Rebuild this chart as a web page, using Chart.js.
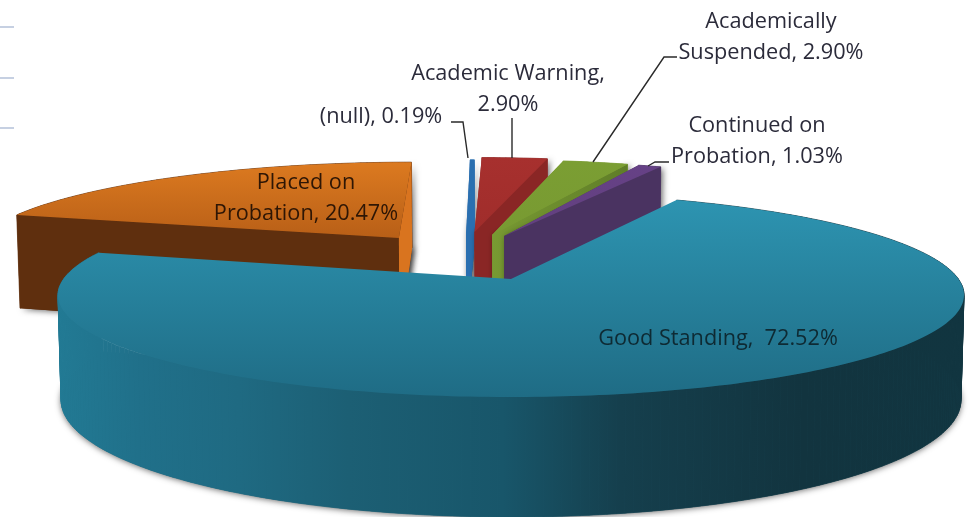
<!DOCTYPE html>
<html>
<head>
<meta charset="utf-8">
<title>Academic standing</title>
<script src="https://cdn.jsdelivr.net/npm/chart.js@4/dist/chart.umd.min.js"></script>
<style>
html, body { margin: 0; padding: 0; background: #fff; overflow: hidden; }
canvas { display: block; filter: blur(0.5px); }
</style>
</head>
<body>
<canvas id="standingPie" width="969" height="517"></canvas>
<script>
// data
const categories = ["Good Standing", "Placed on Probation", "(null)", "Academic Warning", "Academically Suspended", "Continued on Probation"];
const percents = [72.52, 20.47, 0.19, 2.90, 2.90, 1.03];

// slice colours
const topColors = ["#2d94b1", "#dc7a20", "#2a6fb0", "#a7302e", "#7b9e33", "#664186"];
const topDarkColors = ["#1f6c85", "#b85f17", "#2a6fb0", "#a02d2b", "#789a32", "#62407f"];
const startWallColors = ["#1c6074", "#5f2f0e", "#2a6fb0", "#8a2625", "#789a32", "#4a3361"];
const endWallNear = ["#1c6074", "#d9741f", "#2a6fb0", "#8a2625", "#789a32", "#4a3361"];
const endWallFar = ["#1c6074", "#d9741f", "#2a6fb0", "#8a2625", "#5f7d28", "#4a3361"];

// how far each slice is pulled out of the pie, in pie radii
const explodeX = [0, -0.268, -0.108, -0.088, -0.045, -0.016];
const explodeY = [0, -0.44, -0.475, -0.51, -0.477, -0.463];

// the pie's top and bottom planes on screen
const topPlane = { cx: 511, cy: 295, rx: 453, ry: 102 };
const bottomPlane = { cx: 511, cy: 400, rx: 450, ry: 117 };
const tilt = 0.157; // perspective, pushes the pie centre up the ellipse

function project(px, py, plane) {
    const d = 1 - tilt * py;
    return {
        x: plane.cx + plane.rx * px * Math.sqrt(1 - tilt * tilt) / d,
        y: plane.cy + plane.ry * (py - tilt) / d,
    };
}

// outline of the outer edge of a slice, sampled around its angles
function rimPoints(el, i, plane) {
    const pts = [];
    const steps = Math.max(2, Math.ceil((el.endAngle - el.startAngle) * 180 / Math.PI));
    for (let s = 0; s <= steps; s++) {
        const a = el.startAngle + (el.endAngle - el.startAngle) * s / steps;
        pts.push(project(explodeX[i] + Math.cos(a), explodeY[i] + Math.sin(a), plane));
    }
    return pts;
}

function fillPoly(ctx, pts, fill, seam) {
    ctx.beginPath();
    pts.forEach((p, n) => (n ? ctx.lineTo(p.x, p.y) : ctx.moveTo(p.x, p.y)));
    ctx.closePath();
    ctx.fillStyle = fill;
    ctx.fill();
    if (seam) {
        ctx.strokeStyle = fill;
        ctx.lineWidth = 0.7;
        ctx.stroke();
    }
}

function drawSlice(ctx, el, i) {
    const rimTop = rimPoints(el, i, topPlane);
    const rimBottom = rimPoints(el, i, bottomPlane);
    const hubTop = project(explodeX[i], explodeY[i], topPlane);
    const hubBottom = project(explodeX[i], explodeY[i], bottomPlane);
    const last = rimTop.length - 1;

    // soft shadow comes from the footprint of the slice
    ctx.save();
    ctx.shadowColor = "rgba(0,0,0,0.6)";
    ctx.shadowBlur = 6;
    ctx.shadowOffsetY = 1;
    ctx.shadowOffsetX = i === 0 ? 0 : 2;
    fillPoly(ctx, [hubBottom].concat(rimBottom), startWallColors[i]);
    if (i !== 0) {
        fillPoly(ctx, [hubTop, rimTop[last], rimBottom[last], hubBottom], endWallNear[i]);
    }
    ctx.restore();

    // outer wall, one quad per sampled step
    let wallFill = startWallColors[i];
    if (i === 0) {
        wallFill = ctx.createLinearGradient(58, 0, 965, 0);
        wallFill.addColorStop(0, "#227a94");
        wallFill.addColorStop(0.09, "#20708a");
        wallFill.addColorStop(0.2, "#1f6a82");
        wallFill.addColorStop(0.32, "#1c5f74");
        wallFill.addColorStop(0.49, "#18566a");
        wallFill.addColorStop(0.62, "#153f4d");
        wallFill.addColorStop(0.82, "#12343f");
        wallFill.addColorStop(1, "#113540");
    }
    for (let k = 0; k < last; k++) {
        fillPoly(ctx, [rimTop[k], rimTop[k + 1], rimBottom[k + 1], rimBottom[k]], wallFill, true);
    }

    // the two cut faces, the main slice shows neither
    if (i !== 0) {
        fillPoly(ctx, [hubTop, rimTop[0], rimBottom[0], hubBottom], startWallColors[i]);
        const endFill = ctx.createLinearGradient(hubTop.x, 0, rimTop[last].x, 0);
        endFill.addColorStop(0, endWallNear[i]);
        endFill.addColorStop(1, endWallFar[i]);
        fillPoly(ctx, [hubTop, rimTop[last], rimBottom[last], hubBottom], endFill);
    }

    // top face
    const ys = rimTop.map(p => p.y).concat(hubTop.y);
    const topFill = ctx.createLinearGradient(0, Math.min(...ys), 0, Math.max(...ys));
    topFill.addColorStop(0, el.options.backgroundColor);
    topFill.addColorStop(1, topDarkColors[i]);
    fillPoly(ctx, [hubTop].concat(rimTop), topFill);
}

// labels
const labelLayout = [
    { lines: ["Good Standing,  72.52%"], x: 718, y: 338, color: "#0e2a33" },
    { lines: ["Placed on", "Probation, 20.47%"], x: 306, y: 182, color: "#2e1605" },
    { lines: ["(null), 0.19%"], x: 381, y: 116, color: "#2b2b3a" },
    { lines: ["Academic Warning,", "2.90%"], x: 508, y: 73, color: "#2b2b3a" },
    { lines: ["Academically", "Suspended, 2.90%"], x: 771, y: 21, color: "#2b2b3a" },
    { lines: ["Continued on", "Probation, 1.03%"], x: 757, y: 125, color: "#2b2b3a" },
];
const leaders = [
    [[451, 122], [463, 122], [468, 158]],
    [[512, 118], [512, 158]],
    [[677, 57], [664, 57], [593, 162]],
    [[669, 162], [655, 162], [648, 166]],
];
const gridStubs = [27, 78, 128];

const pie3d = {
    id: "pie3d",
    beforeDatasetsDraw(chart) {
        const ctx = chart.ctx;
        const arcs = chart.getDatasetMeta(0).data;
        // back slices first, the big one sits in front of them
        for (let i = 1; i < arcs.length; i++) drawSlice(ctx, arcs[i], i);
        drawSlice(ctx, arcs[0], 0);
        return false; // no flat pie on top
    },
    afterDraw(chart) {
        const ctx = chart.ctx;
        ctx.save();
        ctx.strokeStyle = "#c6d0e2";
        ctx.lineWidth = 2;
        gridStubs.forEach(y => {
            ctx.beginPath();
            ctx.moveTo(0, y);
            ctx.lineTo(14, y);
            ctx.stroke();
        });
        ctx.strokeStyle = "#2a2a2a";
        ctx.lineWidth = 1.4;
        leaders.forEach(line => {
            ctx.beginPath();
            line.forEach((p, n) => (n ? ctx.lineTo(p[0], p[1]) : ctx.moveTo(p[0], p[1])));
            ctx.stroke();
        });
        ctx.font = '21.7px "Open Sans"';
        ctx.textAlign = "center";
        ctx.textBaseline = "middle";
        labelLayout.forEach(label => {
            ctx.fillStyle = label.color;
            label.lines.forEach((line, n) => ctx.fillText(line, label.x, label.y + 1 + n * 31));
        });
        ctx.restore();
    },
};

new Chart(document.getElementById("standingPie").getContext("2d"), {
    type: "pie",
    data: {
        labels: categories,
        datasets: [
            {
                data: percents,
                backgroundColor: topColors,
                borderWidth: 0,
            },
        ],
    },
    options: {
        responsive: false,
        animation: false,
        rotation: 25,
        plugins: {
            legend: { display: false },
            tooltip: { enabled: false },
        },
    },
    plugins: [pie3d],
});
</script>
</body>
</html>
